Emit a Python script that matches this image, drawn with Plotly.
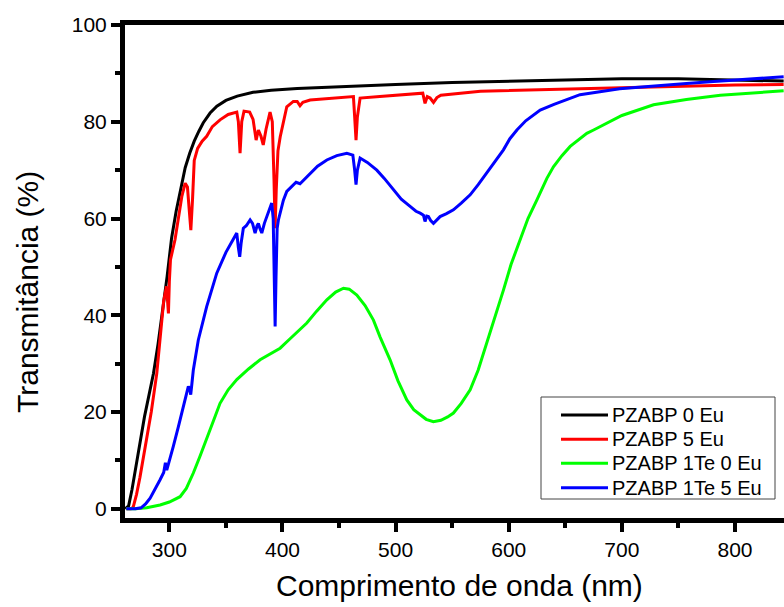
import plotly.graph_objects as go

# Transmittance spectra (wavelength in nm, transmittance in %)
wl_0eu = [261, 264, 267, 270, 274, 278, 282, 286, 290, 294, 298, 302, 306, 310, 314, 318,
          322, 326, 330, 336, 342, 350, 360, 374, 390, 413, 450, 500, 550, 600, 650, 700,
          750, 800, 843]
t_0eu = [0, 0.6, 4, 8, 14, 19, 23.5, 28, 34, 40.5, 48, 56, 61.5, 66, 70.5, 73.5,
         76, 78, 79.8, 81.8, 83.2, 84.4, 85.3, 86.1, 86.5, 86.9, 87.3, 87.7, 88.1, 88.4, 88.7, 88.9,
         88.9, 88.7, 88.4]

wl_5eu = [262, 266, 268, 271, 274, 277, 280, 284, 288.9, 292, 295, 297.5, 298.5, 299.2, 300, 301,
          305, 308, 311, 314, 316, 317.5, 319, 320.5, 322, 325, 329, 333, 338, 344.8, 352, 359.6,
          361, 362.5, 364, 366, 371, 374, 376.7, 378.7, 381, 383, 385.5, 389, 391, 392.5, 393.5,
          394.5, 396, 398, 401, 403.8, 409.6, 413, 415.5, 418, 424.4, 440, 455, 462.7, 463.8, 465,
          466.2, 468.6, 486, 505, 524, 526, 528, 530.5, 533.5, 536.5, 540, 575, 610, 663, 700,
          751, 800, 843]
t_5eu = [0, 0, 0.3, 3, 6.5, 10.5, 14.3, 20, 28, 36, 43, 46, 42, 40.4, 47, 51.5,
         55.6, 60, 64.5, 67.3, 66.5, 62, 57.6, 64, 72, 74.5, 76, 77, 79, 80.4, 81.5, 82,
         80, 73.5, 80, 82.2, 82, 80.5, 76.2, 78.3, 77, 75.2, 78.5, 82, 80, 68, 58,
         66, 74, 76.9, 80.5, 83.1, 84.2, 84.2, 83.3, 84, 84.5, 84.8, 85.1, 85.2, 81, 76.2,
         81, 84.9, 85.2, 85.6, 85.9, 83.8, 85.2, 84.9, 84, 85, 85.5, 86.3, 86.5, 86.8, 87.1,
         87.4, 87.6, 87.7]

wl_te0 = [262, 270, 280, 291.8, 300, 309.5, 315, 321.2, 327, 333, 339, 344.8, 352, 359.6, 370,
          380.2, 390, 397.9, 406, 415.6, 421.5, 430, 439.2, 447, 453.9, 459, 465.7, 473, 480.4,
          486.3, 495.1, 502, 509.9, 516, 521.7, 527, 533.4, 540, 546, 551.1, 558, 565.9, 573,
          580.6, 588, 595.3, 602, 610, 617, 624.8, 633.7, 639.5, 647, 654.3, 669, 675, 700,
          728, 757, 787, 815, 843]
t_te0 = [0, 0, 0.2, 0.8, 1.4, 2.5, 4.2, 7.4, 10.8, 14.3, 18.2, 21.8, 24.6, 26.7, 28.9,
         30.8, 32.2, 33.2, 35, 37, 38.4, 40.8, 43.2, 44.8, 45.6, 45.4, 44.2, 42, 39,
         35.5, 30.8, 26.5, 22.5, 20.5, 19.5, 18.5, 18, 18.3, 19, 19.8, 21.8, 24.6, 28.7,
         34.2, 39.8, 45.2, 50.5, 55.6, 60, 63.8, 68.3, 70.7, 73, 74.9, 77.6, 78.3, 81.3,
         83.5, 84.6, 85.5, 86, 86.4]

wl_te5 = [262, 270, 275, 279, 283, 287, 291.8, 295, 296.5, 297.7, 299, 303.5, 308, 312.4, 315.5,
          316.8, 318, 318.9, 320, 321.2, 325.6, 333, 341.9, 350, 356, 359.6, 361, 362.2, 363.5,
          365.4, 368, 371.4, 373.5, 375.8, 377.5, 378.7, 380, 381.7, 384, 386.1, 388, 390.5,
          391.8, 392.8, 393.5, 394.3, 395.3, 396.4, 398.5, 400.8, 403.8, 406.7, 409.6, 412,
          415.5, 419, 424.4, 431, 439.2, 448, 456.9, 462.2, 463.8, 465, 466.2, 468.6, 475,
          483.4, 490, 498, 505, 512.8, 518, 521.7, 524.6, 526, 527.5, 529, 531, 533.5, 536,
          539.3, 545, 551.1, 558, 565.9, 573, 580.6, 588, 595.3, 601, 607.2, 615, 627.8, 640,
          663, 698, 722, 757, 781, 810, 843]
t_te5 = [0, 0, 0.2, 1, 2.2, 3.8, 6, 7.5, 9.5, 8, 9, 12.9, 17, 21.1, 24,
         25.3, 24.8, 23.6, 26, 28.7, 34.9, 41.8, 48.7, 53, 55.5, 57, 54, 52.1, 55,
         58, 58.5, 59.7, 59, 57, 58.5, 59, 58, 57, 59, 60.4, 62, 63.2,
         60, 45, 37.7, 48, 58, 59.7, 61.5, 63.8, 65.6, 66.3, 67, 67.5,
         67.2, 68, 69.4, 70.8, 72.1, 73, 73.5, 73.1, 70, 67, 70, 72.5, 71.6,
         70, 68.3, 65.9, 64, 62.5, 61.5, 61.1, 60.7, 59.4, 60.5, 60.4, 59.6, 59, 59.7,
         60.4, 61, 61.8, 63.2, 64.9, 67, 69.4, 71.8, 74.2, 76.5, 78.3, 80.2, 82.4, 83.6,
         85.6, 86.8, 87.3, 87.9, 88.3, 88.8, 89.3]

names = ["PZABP 0 Eu", "PZABP 5 Eu", "PZABP 1Te 0 Eu", "PZABP 1Te 5 Eu"]
colors = ["#000000", "#ff0000", "#00ff00", "#0000ff"]
xs = [wl_0eu, wl_5eu, wl_te0, wl_te5]
ys = [t_0eu, t_5eu, t_te0, t_te5]

FONT = "Liberation Sans, Arial, sans-serif"

# Plot area in pixels (figure 784 x 607)
L, T, B, W = 125, 25, 518, 784
PW, PH = W - L, B - T


def px_x(p):
    return (p - L) / PW


def px_y(p):
    return (B - p) / PH


fig = go.Figure()
for name, x, y, color in zip(names, xs, ys, colors):
    fig.add_trace(go.Scatter(x=x, y=y, mode="lines", name=name, showlegend=False,
                             line=dict(color=color, width=3)))

axis_common = dict(
    showgrid=False, zeroline=False,
    showline=True, linecolor="black", linewidth=5,
    ticks="outside", ticklen=9, tickwidth=4, tickcolor="black",
    tickfont=dict(family=FONT, size=21, color="black"),
)

fig.update_xaxes(
    range=[260.8, 843.3], tick0=300, dtick=100, mirror=True,
    minor=dict(dtick=50, tick0=250, ticks="outside", ticklen=5, tickwidth=4, tickcolor="black"),
    **axis_common,
)
fig.update_yaxes(
    range=[-1.9, 100], tick0=0, dtick=20,
    minor=dict(dtick=10, tick0=0, ticks="outside", ticklen=5, tickwidth=4, tickcolor="black"),
    **axis_common,
)

annotations = [
    dict(text="Comprimento de onda (nm)", xref="paper", yref="paper",
         x=px_x(459), y=px_y(585), xanchor="center", yanchor="middle", showarrow=False,
         font=dict(family=FONT, size=30, color="black")),
    dict(text="Transmitância (%)", xref="paper", yref="paper", textangle=-90,
         x=px_x(27), y=px_y(292), xanchor="center", yanchor="middle", showarrow=False,
         font=dict(family=FONT, size=30, color="black")),
]

# Legend box with line samples and labels
shapes = [dict(type="rect", xref="paper", yref="paper", layer="above",
               x0=px_x(541), x1=px_x(775), y0=px_y(499), y1=px_y(397),
               fillcolor="white", line=dict(color="#444444", width=1))]
row_y = [415, 439.3, 463.3, 487.7]
for name, color, ry in zip(names, colors, row_y):
    shapes.append(dict(type="line", xref="paper", yref="paper", layer="above",
                       x0=px_x(561), x1=px_x(608), y0=px_y(ry), y1=px_y(ry),
                       line=dict(color=color, width=3)))
    annotations.append(dict(text=name, xref="paper", yref="paper",
                            x=px_x(610), y=px_y(ry), xanchor="left", yanchor="middle",
                            showarrow=False,
                            font=dict(family=FONT, size=20, color="black")))

fig.update_layout(
    width=784, height=607,
    margin=dict(l=L, r=0, t=T, b=607 - B, autoexpand=False),
    paper_bgcolor="white", plot_bgcolor="white",
    showlegend=False,
    shapes=shapes,
    annotations=annotations,
)

fig.write_html("out.html")
